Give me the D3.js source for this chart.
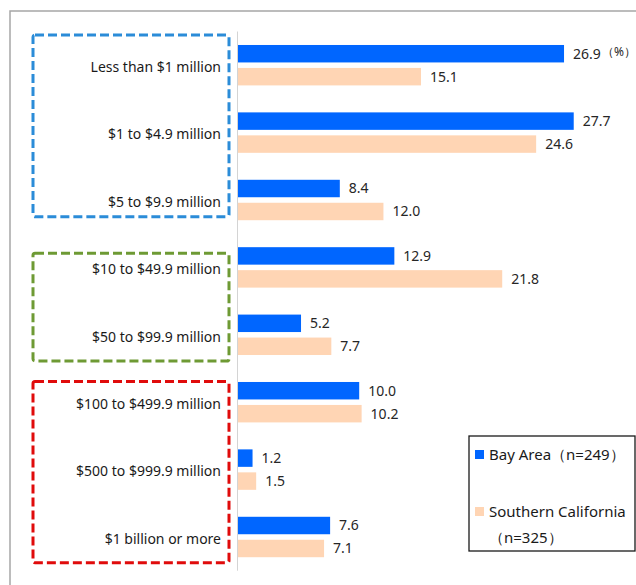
<!DOCTYPE html>
<html><head><meta charset="utf-8">
<script src="https://cdn.jsdelivr.net/npm/d3@7"></script>
<style>
html,body{margin:0;padding:0;background:#fff;}
svg{display:block;font-family:"Noto Sans","Open Sans",sans-serif;}
</style></head>
<body><svg id="chart" width="636" height="585"></svg>
<script>
const categories = ["Less than $1 million","$1 to $4.9 million","$5 to $9.9 million","$10 to $49.9 million","$50 to $99.9 million","$100 to $499.9 million","$500 to $999.9 million","$1 billion or more"];
const bayArea = [26.9,27.7,8.4,12.9,5.2,10.0,1.2,7.6];
const southernCalifornia = [15.1,24.6,12.0,21.8,7.7,10.2,1.5,7.1];
const seriesNames = ["Bay Area（n=249）","Southern California"];
const seriesNote = "（n=325）";
const unitLabel = "（%）";
const groups = [
  {from:0,to:2,color:"#2B8CD8",top:3.5,bottom:17},
  {from:3,to:4,color:"#6E9A34",top:19.5,bottom:7.5},
  {from:5,to:7,color:"#E00B0B",top:13,bottom:8}
];

const svg = d3.select("#chart");
const x = d3.scaleLinear().domain([0,30]).range([238,238+12.12*30]);
const y = d3.scaleBand().domain(categories).range([31.5,570.7]);
const ys = d3.scaleBand().domain(["bay","socal"]).range([0,y.bandwidth()]).paddingInner(0.24).paddingOuter(0.587);
const colors = {bay:"#0066FF", socal:"#FFD5B4"};

// outer frame
svg.append("rect").attr("x",10).attr("y",11).attr("width",660).attr("height",620)
  .attr("fill","none").attr("stroke","#A6A6A6").attr("stroke-width",1.5);

// axis line
svg.append("line").attr("x1",x(0)-0.5).attr("x2",x(0)-0.5).attr("y1",y.range()[0]).attr("y2",y.range()[1])
  .attr("stroke","#D4D4D4").attr("stroke-width",1);

const data = categories.map((c,i)=>({cat:c, bay:bayArea[i], socal:southernCalifornia[i]}));

const g = svg.append("g").selectAll("g").data(data).join("g")
  .attr("transform",d=>`translate(0,${y(d.cat)})`);

["bay","socal"].forEach(k=>{
  g.append("text").attr("x",d=>x(d[k])+9).attr("y",ys(k)+ys.bandwidth()/2)
    .attr("dy","0.35em").attr("font-size",14).attr("fill","#262626")
    .text(d=>d[k].toFixed(1));
  g.append("rect").attr("x",x(0)).attr("y",ys(k)).attr("height",ys.bandwidth())
    .attr("width",d=>x(d[k])-x(0)).attr("fill",colors[k]);
});

// category labels
g.append("text").attr("x",221).attr("y",y.bandwidth()/2+2).attr("dy","0.35em")
  .attr("text-anchor","end").attr("font-size",14).attr("fill","#1a1a1a").text(d=>d.cat);

// unit
svg.append("text").attr("x",636).attr("y",y(categories[0])+ys("bay")+ys.bandwidth()/2-2)
  .attr("dy","0.35em").attr("text-anchor","end").attr("font-size",12).attr("fill","#262626").text(unitLabel);

// dashed group boxes
groups.forEach(gr=>{
  const top = y(categories[gr.from])+gr.top;
  const bottom = y(categories[gr.to])+y.bandwidth()-gr.bottom;
  svg.append("rect").attr("x",33).attr("y",top).attr("width",196).attr("height",bottom-top)
    .attr("rx",2).attr("fill","none").attr("stroke",gr.color).attr("stroke-width",3)
    .attr("stroke-dasharray","9,4");
});

// legend
const lg = svg.append("g");
lg.append("rect").attr("x",469).attr("y",436).attr("width",166).attr("height",115)
  .attr("fill","#fff").attr("stroke","#1a1a1a").attr("stroke-width",1.3);
lg.append("rect").attr("x",475).attr("y",450).attr("width",9).attr("height",9).attr("fill",colors.bay);
lg.append("text").attr("x",489).attr("y",455).attr("dy","0.35em").attr("font-size",15).attr("fill","#1a1a1a").text(seriesNames[0]);
lg.append("rect").attr("x",475).attr("y",507).attr("width",9).attr("height",9).attr("fill",colors.socal);
lg.append("text").attr("x",489).attr("y",512).attr("dy","0.35em").attr("font-size",15).attr("fill","#1a1a1a").text(seriesNames[1]);
lg.append("text").attr("x",489).attr("y",538).attr("dy","0.35em").attr("font-size",15).attr("fill","#1a1a1a").text(seriesNote);
</script></body></html>
